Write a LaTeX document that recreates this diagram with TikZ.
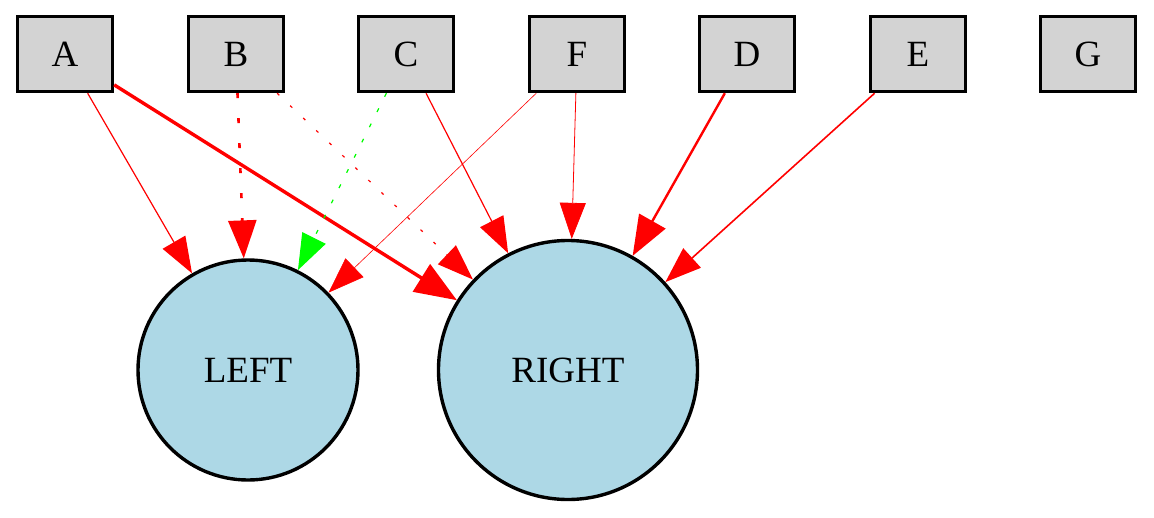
\documentclass[tikz,border=0pt]{standalone}
\usepackage{fontspec}
\setmainfont{Liberation Serif}
\usetikzlibrary{arrows.meta}
\definecolor{boxgray}{HTML}{D3D3D3}
\definecolor{outblue}{HTML}{ADD8E6}

\begin{document}
\begin{tikzpicture}[x=1pt, y=-1pt,
  font=\fontsize{37}{44}\selectfont,
  inbox/.style={draw, line width=3.4pt, fill=boxgray, minimum width=95pt, minimum height=75pt, inner sep=0pt},
  outcirc/.style={circle, draw, line width=3.4pt, fill=outblue, inner sep=0pt},
  link/.style={red, -{Triangle[length=36pt,width=26pt]}}]
\useasboundingbox (0,0) rectangle (1154,517);
% input boxes
\node[inbox] (A) at (65,54) {A};
\node[inbox] (B) at (236,54) {B};
\node[inbox] (C) at (406,54) {C};
\node[inbox] (F) at (577,54) {F};
\node[inbox] (D) at (747,54) {D};
\node[inbox] (E) at (918,54) {E};
\node[inbox] (G) at (1088,54) {G};
% outputs
\node[outcirc, minimum size=220pt] (LEFT) at (248,370) {LEFT};
\node[outcirc, minimum size=259pt] (RIGHT) at (568,370) {RIGHT};
% connections
\draw[link, line width=1.2pt] (A) -- (LEFT);
\draw[link, line width=3.4pt, -{Triangle[length=42pt,width=32pt]}] (A) -- (RIGHT);
\draw[link, line width=2.6pt, dash pattern=on 5pt off 20pt, -{Triangle[length=38pt,width=28pt]}] (B) -- (LEFT);
\draw[link, line width=1.2pt, dash pattern=on 3pt off 15pt] (B) -- (RIGHT);
\draw[link, green, line width=1.2pt, dash pattern=on 4pt off 13pt] (C) -- (LEFT);
\draw[link, line width=1.2pt] (C) -- (RIGHT);
\draw[link, line width=0.6pt] (F) -- (LEFT);
\draw[link, line width=0.8pt] (F) -- (RIGHT);
\draw[link, line width=2.4pt, -{Triangle[length=40pt,width=30pt]}] (D) -- (RIGHT);
\draw[link, line width=1.6pt] (E) -- (RIGHT);
\end{tikzpicture}
\end{document}
